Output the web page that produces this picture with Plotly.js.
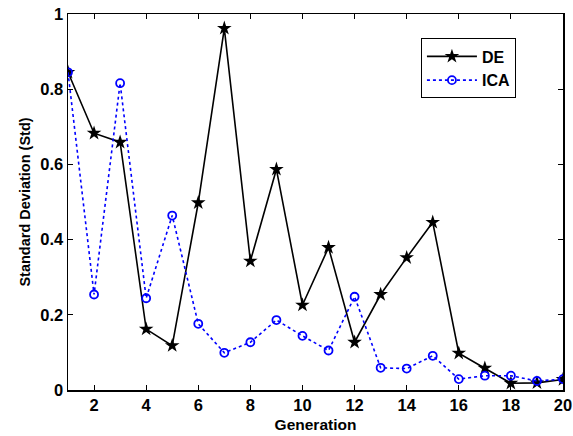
<!DOCTYPE html>
<html>
<head>
<meta charset="utf-8">
<script src="https://cdn.plot.ly/plotly-3.0.1.min.js"></script>
<style>html,body{margin:0;padding:0;background:#fff;}</style>
</head>
<body>
<div id="chart" style="width:573px;height:436px;"></div>
<script>
const generations = [1,2,3,4,5,6,7,8,9,10,11,12,13,14,15,16,17,18,19,20];
const deStd = [0.845,0.683,0.659,0.162,0.118,0.498,0.962,0.343,0.587,0.226,0.379,0.127,0.254,0.352,0.446,0.098,0.058,0.018,0.019,0.028];
const icaStd = [0.845,0.254,0.816,0.244,0.464,0.176,0.099,0.127,0.186,0.144,0.105,0.248,0.059,0.057,0.091,0.029,0.038,0.038,0.024,0.029];
const xTicks = [2,4,6,8,10,12,14,16,18,20];
const yTicks = [0,0.2,0.4,0.6,0.8,1];
const yTickText = ['0','0.2','0.4','0.6','0.8','1'];

const fontFam = 'Liberation Sans, Arial, sans-serif';
const traces = [
  {x: generations, y: deStd, name: 'DE', type: 'scatter', mode: 'lines+markers',
   line: {color: '#000000', width: 1.6},
   marker: {symbol: 'star', size: 11, color: '#000000'}},
  {x: generations, y: icaStd, name: 'ICA', type: 'scatter', mode: 'lines+markers',
   line: {color: '#0000ff', width: 1.6, dash: 'dot'},
   marker: {symbol: 'circle-open', size: 8, color: '#0000ff', line: {width: 1.8, color: '#0000ff'}}}
];
const axisCommon = {
  showgrid: false, zeroline: false, showline: true, mirror: 'ticks',
  linecolor: '#000', linewidth: 1.5, ticks: 'inside', ticklen: 5, tickwidth: 1,
  tickcolor: '#000',
  tickfont: {family: fontFam, size: 16.5, color: '#000', weight: 'bold'}
};
const layout = {
  width: 573, height: 436,
  margin: {l: 67.5, r: 10, t: 14, b: 46},
  paper_bgcolor: '#fff', plot_bgcolor: '#fff',
  showlegend: true,
  legend: {x: 0.713, y: 0.935, xanchor: 'left', yanchor: 'top',
    bordercolor: '#000', borderwidth: 1, bgcolor: '#fff',
    font: {family: fontFam, size: 16, color: '#000', weight: 'bold'},
    tracegroupgap: 0, itemwidth: 50},
  xaxis: Object.assign({}, axisCommon, {
    range: [1, 20], tickvals: xTicks,
    title: {text: 'Generation', font: {family: fontFam, size: 15.5, color: '#000', weight: 'bold'}, standoff: 6}
  }),
  yaxis: Object.assign({}, axisCommon, {
    range: [0, 1], tickvals: yTicks, ticktext: yTickText,
    title: {text: 'Standard Deviation (Std)', font: {family: fontFam, size: 14.5, color: '#000', weight: 'bold'}, standoff: 6}
  })
};
Plotly.newPlot('chart', traces, layout, {displayModeBar: false, staticPlot: true});
</script>
</body>
</html>
